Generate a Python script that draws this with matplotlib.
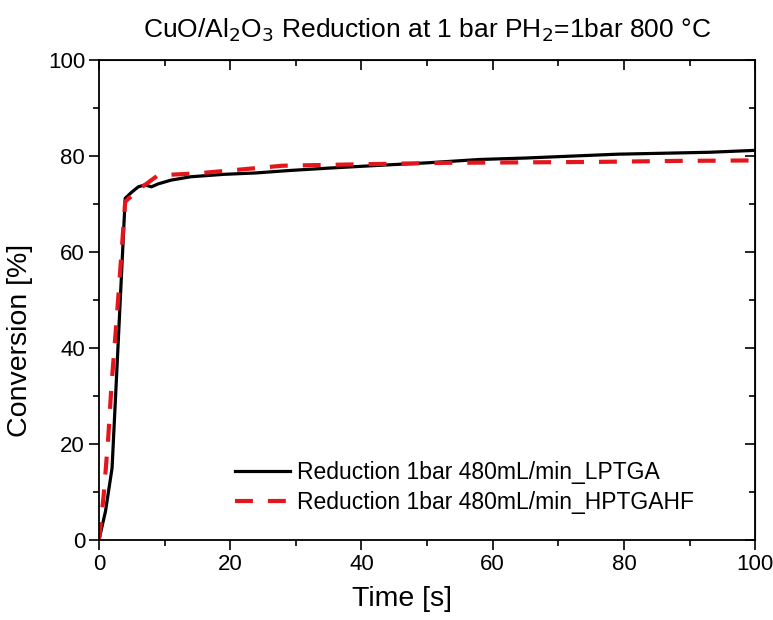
import numpy as np
import matplotlib.pyplot as plt
from matplotlib.ticker import MultipleLocator

plt.rcParams['font.family'] = ['Liberation Sans', 'DejaVu Sans']

# LPTGA run (black solid)
t_lp = [0, 1, 2, 3, 4, 5, 6, 7, 8, 9, 11, 14, 19, 24, 29, 35, 43, 50, 58, 65, 72, 79, 86, 93, 100]
x_lp = [0, 6, 15, 43, 71.2, 72.5, 73.6, 74, 73.6, 74.2, 75, 75.7, 76.2, 76.5, 77, 77.5, 78.1, 78.6, 79.3, 79.6, 80, 80.4, 80.6, 80.8, 81.2]

# HPTGAHF run (red dashed)
t_hp = [0, 0.7, 1.4, 1.9, 2.7, 3.5, 4, 6, 9, 15, 28, 40, 53, 65, 76, 88, 100]
x_hp = [0, 9, 21, 32, 46, 61, 70.5, 73, 76, 76.4, 78, 78.3, 78.6, 78.7, 78.8, 79, 79.1]

fig = plt.figure(figsize=(7.73, 6.2), dpi=100)
ax = fig.add_axes([0.128, 0.129, 0.849, 0.774])

ax.plot(t_lp, x_lp, color='black', lw=2.3, label='Reduction 1bar 480mL/min_LPTGA')
ax.plot(t_hp, x_hp, color='#e3161c', lw=3.0, ls=(0, (4.3, 3.6)),
        label='Reduction 1bar 480mL/min_HPTGAHF')

ax.set_xlim(0, 100)
ax.set_ylim(0, 100)
ax.xaxis.set_major_locator(MultipleLocator(20))
ax.xaxis.set_minor_locator(MultipleLocator(10))
ax.yaxis.set_major_locator(MultipleLocator(20))
ax.yaxis.set_minor_locator(MultipleLocator(10))

ax.tick_params(which='both', direction='out', labelsize=16, width=1.2, pad=3)
ax.tick_params(which='major', length=7)
ax.tick_params(which='minor', length=4)

# mirrored inward ticks on top and right
ax_top = ax.secondary_xaxis('top')
ax_top.xaxis.set_major_locator(MultipleLocator(20))
ax_top.xaxis.set_minor_locator(MultipleLocator(10))
ax_top.tick_params(which='both', direction='in', labeltop=False, width=1.2)
ax_top.tick_params(which='major', length=7)
ax_top.tick_params(which='minor', length=4)
ax_right = ax.secondary_yaxis('right')
ax_right.yaxis.set_major_locator(MultipleLocator(20))
ax_right.yaxis.set_minor_locator(MultipleLocator(10))
ax_right.tick_params(which='both', direction='in', labelright=False, width=1.2)
ax_right.tick_params(which='major', length=7)
ax_right.tick_params(which='minor', length=4)

for s in ax.spines.values():
    s.set_linewidth(1.3)

ax.set_xlabel('Time [s]', fontsize=20.5, labelpad=6)
ax.xaxis.set_label_coords(0.462, -0.095)
ax.set_ylabel('Conversion [%]', fontsize=20.5)
ax.yaxis.set_label_coords(-0.1, 0.415)
ax.set_title('CuO/Al$_2$O$_3$ Reduction at 1 bar PH$_2$=1bar 800 °C', fontsize=19, pad=16)

ax.legend(loc='lower left', bbox_to_anchor=(0.207, 0.055), frameon=False,
          borderaxespad=0, borderpad=0,
          fontsize=16.5, handlelength=2.4, handletextpad=0.3, labelspacing=0.3)

fig.savefig('out.png', dpi=100)
